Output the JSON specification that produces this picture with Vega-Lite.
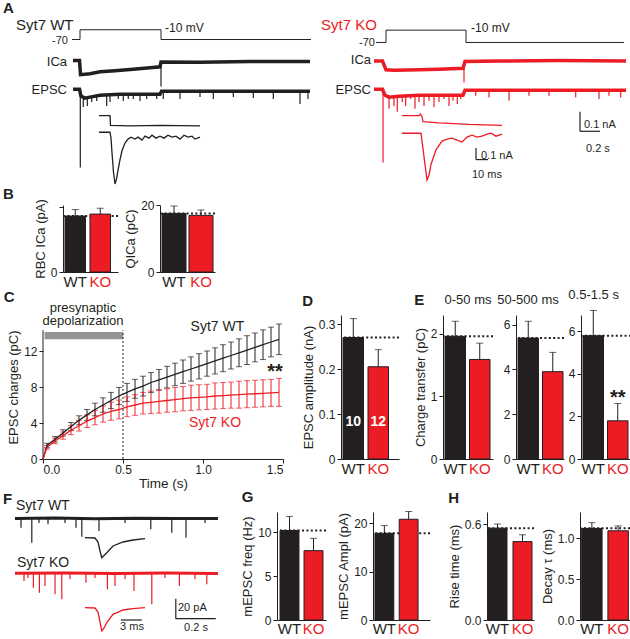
{
"$schema": "https://vega.github.io/schema/vega-lite/v6.json",
"padding": 0,
"background": "white",
"config": {
  "font": "Liberation Sans",
  "view": {"stroke": null},
  "axis": {"labelFont": "Liberation Sans", "titleFont": "Liberation Sans", "labelFontSize": 12, "titleFontSize": 13, "titleFontWeight": "normal", "labelColor": "#231f20", "titleColor": "#231f20", "domainColor": "#231f20", "tickColor": "#231f20", "grid": false, "tickSize": 4, "labelPadding": 2, "titlePadding": 3},
  "title": {"font": "Liberation Sans", "fontSize": 15, "fontWeight": "bold", "anchor": "start", "frame": "bounds", "color": "#231f20", "offset": 2},
  "text": {"font": "Liberation Sans"}
},
"datasets": {
  "tr": [
    {"p":"A","g":"WT","s":"V","t":-0.08,"y":0.76},{"p":"A","g":"WT","s":"V","t":0,"y":0.76},{"p":"A","g":"WT","s":"V","t":0,"y":0.81},{"p":"A","g":"WT","s":"V","t":0.81,"y":0.81},{"p":"A","g":"WT","s":"V","t":0.81,"y":0.76},{"p":"A","g":"WT","s":"V","t":2.31,"y":0.76},
    {"p":"A","g":"WT","s":"I","t":-0.07,"y":0.653},{"p":"A","g":"WT","s":"I","t":-0.005,"y":0.653},{"p":"A","g":"WT","s":"I","t":0.005,"y":0.58},{"p":"A","g":"WT","s":"I","t":0.1,"y":0.585},{"p":"A","g":"WT","s":"I","t":0.2,"y":0.595},{"p":"A","g":"WT","s":"I","t":0.35,"y":0.6},{"p":"A","g":"WT","s":"I","t":0.53,"y":0.608},{"p":"A","g":"WT","s":"I","t":0.7,"y":0.615},{"p":"A","g":"WT","s":"I","t":0.8,"y":0.62},{"p":"A","g":"WT","s":"I","t":0.81,"y":0.645},{"p":"A","g":"WT","s":"I","t":1.2,"y":0.643},{"p":"A","g":"WT","s":"I","t":1.7,"y":0.648},{"p":"A","g":"WT","s":"I","t":2.3,"y":0.648},
    {"p":"A","g":"WT","s":"E","t":-0.07,"y":0.505},{"p":"A","g":"WT","s":"E","t":-0.005,"y":0.505},{"p":"A","g":"WT","s":"E","t":0.01,"y":0.47},{"p":"A","g":"WT","s":"E","t":0.05,"y":0.46},{"p":"A","g":"WT","s":"E","t":0.1,"y":0.465},{"p":"A","g":"WT","s":"E","t":0.2,"y":0.475},{"p":"A","g":"WT","s":"E","t":0.4,"y":0.48},{"p":"A","g":"WT","s":"E","t":0.8,"y":0.48},{"p":"A","g":"WT","s":"E","t":0.815,"y":0.495},{"p":"A","g":"WT","s":"E","t":1.7,"y":0.495},{"p":"A","g":"WT","s":"E","t":2.3,"y":0.495},
    {"p":"A","g":"WT","s":"iI","t":0.19,"y":0.37},{"p":"A","g":"WT","s":"iI","t":0.3,"y":0.37},{"p":"A","g":"WT","s":"iI","t":0.305,"y":0.32},{"p":"A","g":"WT","s":"iI","t":0.5,"y":0.318},{"p":"A","g":"WT","s":"iI","t":0.8,"y":0.32},{"p":"A","g":"WT","s":"iI","t":1.2,"y":0.318},
    {"p":"A","g":"WT","s":"iE","t":0.19,"y":0.285},{"p":"A","g":"WT","s":"iE","t":0.3,"y":0.285},{"p":"A","g":"WT","s":"iE","t":0.31,"y":0.255},{"p":"A","g":"WT","s":"iE","t":0.32,"y":0.18},{"p":"A","g":"WT","s":"iE","t":0.335,"y":0.08},{"p":"A","g":"WT","s":"iE","t":0.35,"y":0.02},{"p":"A","g":"WT","s":"iE","t":0.365,"y":0.045},{"p":"A","g":"WT","s":"iE","t":0.38,"y":0.09},{"p":"A","g":"WT","s":"iE","t":0.4,"y":0.145},{"p":"A","g":"WT","s":"iE","t":0.42,"y":0.19},{"p":"A","g":"WT","s":"iE","t":0.45,"y":0.23},{"p":"A","g":"WT","s":"iE","t":0.48,"y":0.25},{"p":"A","g":"WT","s":"iE","t":0.51,"y":0.26},{"p":"A","g":"WT","s":"iE","t":0.55,"y":0.25},{"p":"A","g":"WT","s":"iE","t":0.58,"y":0.26},{"p":"A","g":"WT","s":"iE","t":0.62,"y":0.245},{"p":"A","g":"WT","s":"iE","t":0.65,"y":0.265},{"p":"A","g":"WT","s":"iE","t":0.69,"y":0.255},{"p":"A","g":"WT","s":"iE","t":0.72,"y":0.27},{"p":"A","g":"WT","s":"iE","t":0.76,"y":0.255},{"p":"A","g":"WT","s":"iE","t":0.8,"y":0.265},{"p":"A","g":"WT","s":"iE","t":0.84,"y":0.255},{"p":"A","g":"WT","s":"iE","t":0.88,"y":0.27},{"p":"A","g":"WT","s":"iE","t":0.92,"y":0.26},{"p":"A","g":"WT","s":"iE","t":0.96,"y":0.265},{"p":"A","g":"WT","s":"iE","t":1.0,"y":0.25},{"p":"A","g":"WT","s":"iE","t":1.04,"y":0.27},{"p":"A","g":"WT","s":"iE","t":1.08,"y":0.26},{"p":"A","g":"WT","s":"iE","t":1.12,"y":0.265},{"p":"A","g":"WT","s":"iE","t":1.15,"y":0.25},{"p":"A","g":"WT","s":"iE","t":1.2,"y":0.26},
    {"p":"A","g":"KO","s":"V","t":-0.1,"y":0.745},{"p":"A","g":"KO","s":"V","t":0,"y":0.745},{"p":"A","g":"KO","s":"V","t":0,"y":0.808},{"p":"A","g":"KO","s":"V","t":0.8,"y":0.808},{"p":"A","g":"KO","s":"V","t":0.8,"y":0.745},{"p":"A","g":"KO","s":"V","t":2.38,"y":0.745},
    {"p":"A","g":"KO","s":"I","t":-0.12,"y":0.65},{"p":"A","g":"KO","s":"I","t":-0.035,"y":0.65},{"p":"A","g":"KO","s":"I","t":0,"y":0.605},{"p":"A","g":"KO","s":"I","t":0.08,"y":0.603},{"p":"A","g":"KO","s":"I","t":0.33,"y":0.605},{"p":"A","g":"KO","s":"I","t":0.53,"y":0.608},{"p":"A","g":"KO","s":"I","t":0.77,"y":0.613},{"p":"A","g":"KO","s":"I","t":0.79,"y":0.648},{"p":"A","g":"KO","s":"I","t":1.13,"y":0.65},{"p":"A","g":"KO","s":"I","t":1.73,"y":0.653},{"p":"A","g":"KO","s":"I","t":2.4,"y":0.65},
    {"p":"A","g":"KO","s":"E","t":-0.12,"y":0.505},{"p":"A","g":"KO","s":"E","t":-0.035,"y":0.505},{"p":"A","g":"KO","s":"E","t":-0.01,"y":0.475},{"p":"A","g":"KO","s":"E","t":0.03,"y":0.465},{"p":"A","g":"KO","s":"E","t":0.13,"y":0.47},{"p":"A","g":"KO","s":"E","t":0.33,"y":0.475},{"p":"A","g":"KO","s":"E","t":0.53,"y":0.475},{"p":"A","g":"KO","s":"E","t":0.77,"y":0.475},{"p":"A","g":"KO","s":"E","t":0.79,"y":0.5},{"p":"A","g":"KO","s":"E","t":1.63,"y":0.5},{"p":"A","g":"KO","s":"E","t":2.4,"y":0.5},
    {"p":"A","g":"KO","s":"iI","t":0.16,"y":0.37},{"p":"A","g":"KO","s":"iI","t":0.33,"y":0.37},{"p":"A","g":"KO","s":"iI","t":0.345,"y":0.378},{"p":"A","g":"KO","s":"iI","t":0.36,"y":0.365},{"p":"A","g":"KO","s":"iI","t":0.37,"y":0.34},{"p":"A","g":"KO","s":"iI","t":0.53,"y":0.333},{"p":"A","g":"KO","s":"iI","t":0.83,"y":0.325},{"p":"A","g":"KO","s":"iI","t":1.16,"y":0.32},
    {"p":"A","g":"KO","s":"iE","t":0.16,"y":0.28},{"p":"A","g":"KO","s":"iE","t":0.35,"y":0.28},{"p":"A","g":"KO","s":"iE","t":0.36,"y":0.24},{"p":"A","g":"KO","s":"iE","t":0.39,"y":0.12},{"p":"A","g":"KO","s":"iE","t":0.41,"y":0.04},{"p":"A","g":"KO","s":"iE","t":0.43,"y":0.065},{"p":"A","g":"KO","s":"iE","t":0.45,"y":0.12},{"p":"A","g":"KO","s":"iE","t":0.5,"y":0.195},{"p":"A","g":"KO","s":"iE","t":0.56,"y":0.24},{"p":"A","g":"KO","s":"iE","t":0.61,"y":0.25},{"p":"A","g":"KO","s":"iE","t":0.66,"y":0.255},{"p":"A","g":"KO","s":"iE","t":0.71,"y":0.245},{"p":"A","g":"KO","s":"iE","t":0.76,"y":0.235},{"p":"A","g":"KO","s":"iE","t":0.81,"y":0.26},{"p":"A","g":"KO","s":"iE","t":0.86,"y":0.27},{"p":"A","g":"KO","s":"iE","t":0.91,"y":0.26},{"p":"A","g":"KO","s":"iE","t":0.96,"y":0.265},{"p":"A","g":"KO","s":"iE","t":1.01,"y":0.275},{"p":"A","g":"KO","s":"iE","t":1.05,"y":0.28},{"p":"A","g":"KO","s":"iE","t":1.1,"y":0.265},{"p":"A","g":"KO","s":"iE","t":1.16,"y":0.275},
    {"p":"F","g":"WT","s":"T","t":0,"y":116.5},{"p":"F","g":"WT","s":"T","t":0.2,"y":117},{"p":"F","g":"WT","s":"T","t":0.4,"y":116.3},{"p":"F","g":"WT","s":"T","t":0.6,"y":116.8},{"p":"F","g":"WT","s":"T","t":0.8,"y":116.4},{"p":"F","g":"WT","s":"T","t":1.015,"y":116.6},
    {"p":"F","g":"KO","s":"T","t":0,"y":61.7},{"p":"F","g":"KO","s":"T","t":0.25,"y":62},{"p":"F","g":"KO","s":"T","t":0.5,"y":61.5},{"p":"F","g":"KO","s":"T","t":0.75,"y":61.9},{"p":"F","g":"KO","s":"T","t":1.015,"y":61.6},
    {"p":"F","g":"WT","s":"i","t":0.35,"y":97.3},{"p":"F","g":"WT","s":"i","t":0.4,"y":97},{"p":"F","g":"WT","s":"i","t":0.415,"y":93},{"p":"F","g":"WT","s":"i","t":0.425,"y":84},{"p":"F","g":"WT","s":"i","t":0.434,"y":77.3},{"p":"F","g":"WT","s":"i","t":0.445,"y":79.5},{"p":"F","g":"WT","s":"i","t":0.459,"y":82.3},{"p":"F","g":"WT","s":"i","t":0.49,"y":89},{"p":"F","g":"WT","s":"i","t":0.54,"y":93},{"p":"F","g":"WT","s":"i","t":0.59,"y":95},{"p":"F","g":"WT","s":"i","t":0.65,"y":96.3},
    {"p":"F","g":"KO","s":"i","t":0.35,"y":27.3},{"p":"F","g":"KO","s":"i","t":0.4,"y":27},{"p":"F","g":"KO","s":"i","t":0.415,"y":23},{"p":"F","g":"KO","s":"i","t":0.425,"y":13},{"p":"F","g":"KO","s":"i","t":0.434,"y":4},{"p":"F","g":"KO","s":"i","t":0.445,"y":7},{"p":"F","g":"KO","s":"i","t":0.459,"y":12.3},{"p":"F","g":"KO","s":"i","t":0.49,"y":20.7},{"p":"F","g":"KO","s":"i","t":0.54,"y":25},{"p":"F","g":"KO","s":"i","t":0.59,"y":26.3},{"p":"F","g":"KO","s":"i","t":0.65,"y":27.3}
  ],
  "sg": [
    {"p":"A","g":"WT","k":"spk","t":0.81,"y":0.52,"y2":0.645},{"p":"A","g":"WT","k":"spk","t":0.003,"y":0.105,"y2":0.505},
    {"p":"A","g":"WT","k":"spk","t":0.033,"y":0.415,"y2":0.465},{"p":"A","g":"WT","k":"spk","t":0.073,"y":0.42,"y2":0.462},{"p":"A","g":"WT","k":"spk","t":0.117,"y":0.44,"y2":0.465},{"p":"A","g":"WT","k":"spk","t":0.167,"y":0.445,"y2":0.47},{"p":"A","g":"WT","k":"spk","t":0.267,"y":0.42,"y2":0.477},{"p":"A","g":"WT","k":"spk","t":0.3,"y":0.44,"y2":0.478},{"p":"A","g":"WT","k":"spk","t":0.383,"y":0.455,"y2":0.48},{"p":"A","g":"WT","k":"spk","t":0.433,"y":0.445,"y2":0.48},{"p":"A","g":"WT","k":"spk","t":0.483,"y":0.455,"y2":0.48},{"p":"A","g":"WT","k":"spk","t":0.533,"y":0.455,"y2":0.48},{"p":"A","g":"WT","k":"spk","t":0.6,"y":0.445,"y2":0.48},{"p":"A","g":"WT","k":"spk","t":0.667,"y":0.455,"y2":0.48},{"p":"A","g":"WT","k":"spk","t":0.767,"y":0.455,"y2":0.48},{"p":"A","g":"WT","k":"spk","t":0.833,"y":0.455,"y2":0.495},{"p":"A","g":"WT","k":"spk","t":1.0,"y":0.455,"y2":0.495},{"p":"A","g":"WT","k":"spk","t":1.2,"y":0.465,"y2":0.495},{"p":"A","g":"WT","k":"spk","t":1.333,"y":0.455,"y2":0.495},{"p":"A","g":"WT","k":"spk","t":1.533,"y":0.465,"y2":0.495},{"p":"A","g":"WT","k":"spk","t":1.733,"y":0.46,"y2":0.495},{"p":"A","g":"WT","k":"spk","t":1.933,"y":0.455,"y2":0.495},{"p":"A","g":"WT","k":"spk","t":2.2,"y":0.43,"y2":0.495},{"p":"A","g":"WT","k":"spk","t":2.28,"y":0.455,"y2":0.495},
    {"p":"A","g":"KO","k":"spk","t":0.78,"y":0.54,"y2":0.648},{"p":"A","g":"KO","k":"spk","t":-0.03,"y":0.13,"y2":0.505},
    {"p":"A","g":"KO","k":"spk","t":0.03,"y":0.405,"y2":0.475},{"p":"A","g":"KO","k":"spk","t":0.08,"y":0.42,"y2":0.475},{"p":"A","g":"KO","k":"spk","t":0.113,"y":0.39,"y2":0.475},{"p":"A","g":"KO","k":"spk","t":0.163,"y":0.44,"y2":0.475},{"p":"A","g":"KO","k":"spk","t":0.197,"y":0.42,"y2":0.475},{"p":"A","g":"KO","k":"spk","t":0.247,"y":0.455,"y2":0.475},{"p":"A","g":"KO","k":"spk","t":0.29,"y":0.405,"y2":0.475},{"p":"A","g":"KO","k":"spk","t":0.33,"y":0.44,"y2":0.475},{"p":"A","g":"KO","k":"spk","t":0.38,"y":0.42,"y2":0.475},{"p":"A","g":"KO","k":"spk","t":0.43,"y":0.447,"y2":0.475},{"p":"A","g":"KO","k":"spk","t":0.48,"y":0.413,"y2":0.475},{"p":"A","g":"KO","k":"spk","t":0.53,"y":0.44,"y2":0.475},{"p":"A","g":"KO","k":"spk","t":0.58,"y":0.455,"y2":0.475},{"p":"A","g":"KO","k":"spk","t":0.63,"y":0.42,"y2":0.475},{"p":"A","g":"KO","k":"spk","t":0.67,"y":0.447,"y2":0.475},{"p":"A","g":"KO","k":"spk","t":0.713,"y":0.43,"y2":0.475},{"p":"A","g":"KO","k":"spk","t":0.747,"y":0.455,"y2":0.475},
    {"p":"A","g":"KO","k":"spk","t":0.897,"y":0.472,"y2":0.5},{"p":"A","g":"KO","k":"spk","t":1.03,"y":0.463,"y2":0.5},{"p":"A","g":"KO","k":"spk","t":1.23,"y":0.447,"y2":0.5},{"p":"A","g":"KO","k":"spk","t":1.43,"y":0.472,"y2":0.5},{"p":"A","g":"KO","k":"spk","t":1.63,"y":0.472,"y2":0.5},{"p":"A","g":"KO","k":"spk","t":1.897,"y":0.463,"y2":0.5},{"p":"A","g":"KO","k":"spk","t":2.13,"y":0.455,"y2":0.5},{"p":"A","g":"KO","k":"spk","t":2.23,"y":0.472,"y2":0.5},{"p":"A","g":"KO","k":"spk","t":2.347,"y":0.463,"y2":0.5},
    {"p":"F","g":"WT","k":"spk","t":0.03,"y":107.3,"y2":116.5},{"p":"F","g":"WT","k":"spk","t":0.084,"y":92.3,"y2":116.5},{"p":"F","g":"WT","k":"spk","t":0.12,"y":112,"y2":116.5},{"p":"F","g":"WT","k":"spk","t":0.165,"y":110.7,"y2":116.5},{"p":"F","g":"WT","k":"spk","t":0.25,"y":112,"y2":116.5},{"p":"F","g":"WT","k":"spk","t":0.305,"y":107.3,"y2":116.5},{"p":"F","g":"WT","k":"spk","t":0.334,"y":98.3,"y2":116.5},{"p":"F","g":"WT","k":"spk","t":0.42,"y":104,"y2":116.5},{"p":"F","g":"WT","k":"spk","t":0.55,"y":112,"y2":116.5},{"p":"F","g":"WT","k":"spk","t":0.679,"y":105.7,"y2":116.5},{"p":"F","g":"WT","k":"spk","t":0.784,"y":102.3,"y2":116.5},{"p":"F","g":"WT","k":"spk","t":0.855,"y":97.3,"y2":116.5},{"p":"F","g":"WT","k":"spk","t":0.95,"y":112,"y2":116.5},
    {"p":"F","g":"KO","k":"spk","t":0.045,"y":54,"y2":61.7},{"p":"F","g":"KO","k":"spk","t":0.065,"y":57,"y2":61.7},{"p":"F","g":"KO","k":"spk","t":0.092,"y":47.3,"y2":61.7},{"p":"F","g":"KO","k":"spk","t":0.122,"y":42.3,"y2":61.7},{"p":"F","g":"KO","k":"spk","t":0.15,"y":49,"y2":61.7},{"p":"F","g":"KO","k":"spk","t":0.2,"y":40.7,"y2":61.7},{"p":"F","g":"KO","k":"spk","t":0.234,"y":35.7,"y2":61.7},{"p":"F","g":"KO","k":"spk","t":0.275,"y":56,"y2":61.7},{"p":"F","g":"KO","k":"spk","t":0.355,"y":52.3,"y2":61.7},{"p":"F","g":"KO","k":"spk","t":0.4,"y":57,"y2":61.7},{"p":"F","g":"KO","k":"spk","t":0.462,"y":45.7,"y2":61.7},{"p":"F","g":"KO","k":"spk","t":0.5,"y":49,"y2":61.7},{"p":"F","g":"KO","k":"spk","t":0.55,"y":56,"y2":61.7},{"p":"F","g":"KO","k":"spk","t":0.595,"y":44,"y2":61.7},{"p":"F","g":"KO","k":"spk","t":0.684,"y":30.7,"y2":61.7},{"p":"F","g":"KO","k":"spk","t":0.75,"y":57,"y2":61.7},{"p":"F","g":"KO","k":"spk","t":0.822,"y":49,"y2":61.7},{"p":"F","g":"KO","k":"spk","t":0.9,"y":56,"y2":61.7},{"p":"F","g":"KO","k":"spk","t":0.959,"y":50.7,"y2":61.7},
    {"p":"A","g":"KO","k":"bar","t":0.9,"t2":0.9,"y":0.205,"y2":0.145},{"p":"A","g":"KO","k":"bar","t":0.9,"t2":1.02,"y":0.145,"y2":0.145},{"p":"A","g":"KO","k":"bar","t":1.94,"t2":1.94,"y":0.39,"y2":0.29},{"p":"A","g":"KO","k":"bar","t":1.94,"t2":2.14,"y":0.29,"y2":0.29},
    {"p":"F","g":"-","k":"bar","t":0.529,"t2":0.634,"y":15,"y2":15},{"p":"F","g":"-","k":"bar","t":0.804,"t2":0.804,"y":36.3,"y2":16.3},{"p":"F","g":"-","k":"bar","t":0.804,"t2":1.004,"y":16.3,"y2":16.3}
  ],
  "tx": [
    {"p":"A","g":"WT","r":"name","s":"Syt7 WT","t":-0.64,"y":0.835},{"p":"A","g":"WT","r":"v70","s":"-70","t":-0.12,"y":0.75},{"p":"A","g":"WT","r":"v10","s":"-10 mV","t":0.85,"y":0.82},{"p":"A","g":"WT","r":"chan","s":"ICa","t":-0.13,"y":0.645},{"p":"A","g":"WT","r":"chan","s":"EPSC","t":-0.13,"y":0.5},
    {"p":"A","g":"KO","r":"name","s":"Syt7 KO","t":-0.65,"y":0.835},{"p":"A","g":"KO","r":"v70","s":"-70","t":-0.11,"y":0.74},{"p":"A","g":"KO","r":"v10","s":"-10 mV","t":0.85,"y":0.82},{"p":"A","g":"KO","r":"chan","s":"ICa","t":-0.15,"y":0.655},{"p":"A","g":"KO","r":"chan","s":"EPSC","t":-0.15,"y":0.5},
    {"p":"A","g":"KO","r":"scale","s":"0.1 nA","t":0.95,"y":0.165},{"p":"A","g":"KO","r":"scale","s":"10 ms","t":0.86,"y":0.065},{"p":"A","g":"KO","r":"scale","s":"0.1 nA","t":1.98,"y":0.32},{"p":"A","g":"KO","r":"scale","s":"0.2 s","t":2.0,"y":0.2},
    {"p":"C","g":"-","r":"pre","s":"presynaptic","t":0.25,"y":16.8},{"p":"C","g":"-","r":"pre","s":"depolarization","t":0.25,"y":15.3},{"p":"C","g":"WT","r":"nm","s":"Syt7 WT","t":1.09,"y":14.7},{"p":"C","g":"KO","r":"nm","s":"Syt7 KO","t":1.075,"y":4.0},{"p":"C","g":"-","r":"sig","s":"**","t":1.45,"y":9.7},
    {"p":"F","g":"-","r":"name","s":"Syt7 WT","t":0.005,"y":129},{"p":"F","g":"-","r":"name","s":"Syt7 KO","t":0.01,"y":72},{"p":"F","g":"-","r":"scaleC","s":"3 ms","t":0.585,"y":8},{"p":"F","g":"-","r":"scale","s":"20 pA","t":0.815,"y":27},{"p":"F","g":"-","r":"scaleC","s":"0.2 s","t":0.905,"y":7}
  ],
  "period": [{"start": 0.01, "end": 0.5}],
  "chg": [
    {"g":"WT","t":0,"m":0},{"g":"KO","t":0,"m":0},
    {"g":"WT","t":0.025,"m":1.5,"lo":1.25,"hi":1.75},{"g":"WT","t":0.075,"m":2.2,"lo":1.9,"hi":2.5},{"g":"WT","t":0.125,"m":2.9,"lo":2.55,"hi":3.25},{"g":"WT","t":0.175,"m":3.6,"lo":3.15,"hi":4.05},{"g":"WT","t":0.225,"m":4.3,"lo":3.8,"hi":4.8},{"g":"WT","t":0.275,"m":4.9,"lo":4.3,"hi":5.5},{"g":"WT","t":0.325,"m":5.5,"lo":4.8,"hi":6.2},{"g":"WT","t":0.375,"m":6.0,"lo":5.2,"hi":6.8},{"g":"WT","t":0.425,"m":6.5,"lo":5.6,"hi":7.4},{"g":"WT","t":0.475,"m":7.0,"lo":6.05,"hi":7.95},{"g":"WT","t":0.525,"m":7.4,"lo":6.4,"hi":8.4},{"g":"WT","t":0.575,"m":7.8,"lo":6.75,"hi":8.85},{"g":"WT","t":0.625,"m":8.1,"lo":7.0,"hi":9.2},{"g":"WT","t":0.675,"m":8.5,"lo":7.4,"hi":9.6},{"g":"WT","t":0.725,"m":8.8,"lo":7.65,"hi":9.95},{"g":"WT","t":0.775,"m":9.1,"lo":7.9,"hi":10.3},{"g":"WT","t":0.825,"m":9.4,"lo":8.15,"hi":10.65},{"g":"WT","t":0.875,"m":9.7,"lo":8.4,"hi":11.0},{"g":"WT","t":0.925,"m":10.0,"lo":8.65,"hi":11.35},{"g":"WT","t":0.975,"m":10.3,"lo":8.9,"hi":11.7},{"g":"WT","t":1.025,"m":10.6,"lo":9.2,"hi":12.0},{"g":"WT","t":1.075,"m":10.9,"lo":9.45,"hi":12.35},{"g":"WT","t":1.125,"m":11.2,"lo":9.7,"hi":12.7},{"g":"WT","t":1.175,"m":11.5,"lo":10.0,"hi":13.0},{"g":"WT","t":1.225,"m":11.8,"lo":10.25,"hi":13.35},{"g":"WT","t":1.275,"m":12.1,"lo":10.5,"hi":13.7},{"g":"WT","t":1.325,"m":12.4,"lo":10.8,"hi":14.0},{"g":"WT","t":1.375,"m":12.7,"lo":11.05,"hi":14.35},{"g":"WT","t":1.425,"m":13.0,"lo":11.35,"hi":14.65},{"g":"WT","t":1.475,"m":13.3,"lo":11.6,"hi":15.0},
    {"g":"KO","t":0.025,"m":1.3,"lo":1.1,"hi":1.5},{"g":"KO","t":0.075,"m":2.0,"lo":1.7,"hi":2.3},{"g":"KO","t":0.125,"m":2.6,"lo":2.2,"hi":3.0},{"g":"KO","t":0.175,"m":3.2,"lo":2.7,"hi":3.7},{"g":"KO","t":0.225,"m":3.7,"lo":3.1,"hi":4.3},{"g":"KO","t":0.275,"m":4.2,"lo":3.5,"hi":4.9},{"g":"KO","t":0.325,"m":4.6,"lo":3.8,"hi":5.4},{"g":"KO","t":0.375,"m":5.0,"lo":4.1,"hi":5.9},{"g":"KO","t":0.425,"m":5.3,"lo":4.3,"hi":6.3},{"g":"KO","t":0.475,"m":5.5,"lo":4.45,"hi":6.55},{"g":"KO","t":0.525,"m":5.8,"lo":4.7,"hi":6.9},{"g":"KO","t":0.575,"m":6.0,"lo":4.85,"hi":7.15},{"g":"KO","t":0.625,"m":6.2,"lo":5.0,"hi":7.4},{"g":"KO","t":0.675,"m":6.3,"lo":5.05,"hi":7.55},{"g":"KO","t":0.725,"m":6.4,"lo":5.1,"hi":7.7},{"g":"KO","t":0.775,"m":6.5,"lo":5.2,"hi":7.8},{"g":"KO","t":0.825,"m":6.6,"lo":5.25,"hi":7.95},{"g":"KO","t":0.875,"m":6.7,"lo":5.35,"hi":8.05},{"g":"KO","t":0.925,"m":6.8,"lo":5.4,"hi":8.2},{"g":"KO","t":0.975,"m":6.85,"lo":5.45,"hi":8.25},{"g":"KO","t":1.025,"m":6.9,"lo":5.5,"hi":8.3},{"g":"KO","t":1.075,"m":7.0,"lo":5.55,"hi":8.45},{"g":"KO","t":1.125,"m":7.05,"lo":5.6,"hi":8.5},{"g":"KO","t":1.175,"m":7.1,"lo":5.65,"hi":8.55},{"g":"KO","t":1.225,"m":7.15,"lo":5.65,"hi":8.65},{"g":"KO","t":1.275,"m":7.2,"lo":5.7,"hi":8.7},{"g":"KO","t":1.325,"m":7.25,"lo":5.75,"hi":8.75},{"g":"KO","t":1.375,"m":7.3,"lo":5.8,"hi":8.8},{"g":"KO","t":1.425,"m":7.35,"lo":5.85,"hi":8.85},{"g":"KO","t":1.475,"m":7.4,"lo":5.85,"hi":8.95}
  ],
  "bars": [
    {"p":"B1","g":"WT","m":43,"hi":48},{"p":"B1","g":"KO","m":44.5,"hi":49},
    {"p":"B2","g":"WT","m":17.5,"hi":19.7},{"p":"B2","g":"KO","m":16.9,"hi":18.5},
    {"p":"D","g":"WT","m":0.27,"hi":0.312,"n":"10"},{"p":"D","g":"KO","m":0.205,"hi":0.243,"n":"12"},
    {"p":"E1","g":"WT","m":1.96,"hi":2.2},{"p":"E1","g":"KO","m":1.59,"hi":1.85},
    {"p":"E2","g":"WT","m":5.4,"hi":6.15},{"p":"E2","g":"KO","m":3.9,"hi":4.76},
    {"p":"E3","g":"WT","m":5.78,"hi":6.96},{"p":"E3","g":"KO","m":1.79,"hi":2.6,"sig":"**"},
    {"p":"G1","g":"WT","m":10.2,"hi":11.8},{"p":"G1","g":"KO","m":7.9,"hi":9.3},
    {"p":"G2","g":"WT","m":17.9,"hi":19.5},{"p":"G2","g":"KO","m":20.8,"hi":22.4},
    {"p":"H1","g":"WT","m":0.574,"hi":0.6},{"p":"H1","g":"KO","m":0.49,"hi":0.533},
    {"p":"H2","g":"WT","m":1.12,"hi":1.19},{"p":"H2","g":"KO","m":1.09,"hi":1.15}
  ]
},
"spacing": 0,
"vconcat": [
  {
    "spacing": 2,
    "hconcat": [
      {"width": 1, "height": 1, "data": {"values": []}, "mark": {"type": "point", "opacity": 0}},
      {
        "title": {"text": "A", "offset": 2},
        "spacing": 0,
        "hconcat": [
          {
            "width": 309, "height": 164,
            "layer": [
              {"data": {"name": "tr"}, "transform": [{"filter": "datum.p==='A' && datum.g==='WT' && datum.s==='V'"}], "mark": {"type": "line", "color": "#231f20", "strokeWidth": 1}, "encoding": {"x": {"field": "t", "type": "quantitative", "scale": {"domain": [-0.77, 2.32], "nice": false, "zero": false}, "axis": null}, "y": {"field": "y", "type": "quantitative", "scale": {"domain": [0.02, 0.86], "nice": false, "zero": false}, "axis": null}, "order": {"value": null}}},
              {"data": {"name": "tr"}, "transform": [{"filter": "datum.p==='A' && datum.g==='WT' && (datum.s==='I' || datum.s==='E')"}], "mark": {"type": "line", "color": "#231f20", "strokeWidth": 3.5}, "encoding": {"x": {"field": "t", "type": "quantitative", "axis": null}, "y": {"field": "y", "type": "quantitative", "axis": null}, "detail": {"field": "s"}, "order": {"value": null}}},
              {"data": {"name": "tr"}, "transform": [{"filter": "datum.p==='A' && datum.g==='WT' && (datum.s==='iI' || datum.s==='iE')"}], "mark": {"type": "line", "color": "#231f20", "strokeWidth": 1.3}, "encoding": {"x": {"field": "t", "type": "quantitative", "axis": null}, "y": {"field": "y", "type": "quantitative", "axis": null}, "detail": {"field": "s"}, "order": {"value": null}}},
              {"data": {"name": "sg"}, "transform": [{"filter": "datum.p==='A' && datum.g==='WT' && datum.k==='spk'"}], "mark": {"type": "rule", "color": "#231f20", "strokeWidth": 1.2}, "encoding": {"x": {"field": "t", "type": "quantitative", "axis": null}, "y": {"field": "y", "type": "quantitative", "axis": null}, "y2": {"field": "y2"}}},
              {"data": {"name": "tx"}, "transform": [{"filter": "datum.p==='A' && datum.g==='WT' && datum.r==='name'"}], "mark": {"type": "text", "align": "left", "baseline": "middle", "fontSize": 15, "color": "#231f20"}, "encoding": {"x": {"field": "t", "type": "quantitative", "axis": null}, "y": {"field": "y", "type": "quantitative", "axis": null}, "text": {"field": "s"}}},
              {"data": {"name": "tx"}, "transform": [{"filter": "datum.p==='A' && datum.g==='WT' && datum.r==='v70'"}], "mark": {"type": "text", "align": "right", "baseline": "middle", "fontSize": 11, "color": "#231f20"}, "encoding": {"x": {"field": "t", "type": "quantitative", "axis": null}, "y": {"field": "y", "type": "quantitative", "axis": null}, "text": {"field": "s"}}},
              {"data": {"name": "tx"}, "transform": [{"filter": "datum.p==='A' && datum.g==='WT' && datum.r==='v10'"}], "mark": {"type": "text", "align": "left", "baseline": "middle", "fontSize": 12, "color": "#231f20"}, "encoding": {"x": {"field": "t", "type": "quantitative", "axis": null}, "y": {"field": "y", "type": "quantitative", "axis": null}, "text": {"field": "s"}}},
              {"data": {"name": "tx"}, "transform": [{"filter": "datum.p==='A' && datum.g==='WT' && datum.r==='chan'"}], "mark": {"type": "text", "align": "right", "baseline": "middle", "fontSize": 13, "color": "#231f20"}, "encoding": {"x": {"field": "t", "type": "quantitative", "axis": null}, "y": {"field": "y", "type": "quantitative", "axis": null}, "text": {"field": "s"}}}
            ]
          },
          {
            "width": 312, "height": 164,
            "layer": [
              {"data": {"name": "tr"}, "transform": [{"filter": "datum.p==='A' && datum.g==='KO' && datum.s==='V'"}], "mark": {"type": "line", "color": "#231f20", "strokeWidth": 1}, "encoding": {"x": {"field": "t", "type": "quantitative", "scale": {"domain": [-0.69, 2.43], "nice": false, "zero": false}, "axis": null}, "y": {"field": "y", "type": "quantitative", "scale": {"domain": [0.02, 0.86], "nice": false, "zero": false}, "axis": null}, "order": {"value": null}}},
              {"data": {"name": "tr"}, "transform": [{"filter": "datum.p==='A' && datum.g==='KO' && (datum.s==='I' || datum.s==='E')"}], "mark": {"type": "line", "color": "#ed1c24", "strokeWidth": 3.5}, "encoding": {"x": {"field": "t", "type": "quantitative", "axis": null}, "y": {"field": "y", "type": "quantitative", "axis": null}, "detail": {"field": "s"}, "order": {"value": null}}},
              {"data": {"name": "tr"}, "transform": [{"filter": "datum.p==='A' && datum.g==='KO' && (datum.s==='iI' || datum.s==='iE')"}], "mark": {"type": "line", "color": "#ed1c24", "strokeWidth": 1.3}, "encoding": {"x": {"field": "t", "type": "quantitative", "axis": null}, "y": {"field": "y", "type": "quantitative", "axis": null}, "detail": {"field": "s"}, "order": {"value": null}}},
              {"data": {"name": "sg"}, "transform": [{"filter": "datum.p==='A' && datum.g==='KO' && datum.k==='spk'"}], "mark": {"type": "rule", "color": "#ed1c24", "strokeWidth": 1.2}, "encoding": {"x": {"field": "t", "type": "quantitative", "axis": null}, "y": {"field": "y", "type": "quantitative", "axis": null}, "y2": {"field": "y2"}}},
              {"data": {"name": "sg"}, "transform": [{"filter": "datum.p==='A' && datum.k==='bar'"}], "mark": {"type": "rule", "color": "#231f20", "strokeWidth": 1.2}, "encoding": {"x": {"field": "t", "type": "quantitative", "axis": null}, "x2": {"field": "t2"}, "y": {"field": "y", "type": "quantitative", "axis": null}, "y2": {"field": "y2"}}},
              {"data": {"name": "tx"}, "transform": [{"filter": "datum.p==='A' && datum.g==='KO' && datum.r==='name'"}], "mark": {"type": "text", "align": "left", "baseline": "middle", "fontSize": 15, "color": "#ed1c24"}, "encoding": {"x": {"field": "t", "type": "quantitative", "axis": null}, "y": {"field": "y", "type": "quantitative", "axis": null}, "text": {"field": "s"}}},
              {"data": {"name": "tx"}, "transform": [{"filter": "datum.p==='A' && datum.g==='KO' && datum.r==='v70'"}], "mark": {"type": "text", "align": "right", "baseline": "middle", "fontSize": 11, "color": "#231f20"}, "encoding": {"x": {"field": "t", "type": "quantitative", "axis": null}, "y": {"field": "y", "type": "quantitative", "axis": null}, "text": {"field": "s"}}},
              {"data": {"name": "tx"}, "transform": [{"filter": "datum.p==='A' && datum.g==='KO' && datum.r==='v10'"}], "mark": {"type": "text", "align": "left", "baseline": "middle", "fontSize": 12, "color": "#231f20"}, "encoding": {"x": {"field": "t", "type": "quantitative", "axis": null}, "y": {"field": "y", "type": "quantitative", "axis": null}, "text": {"field": "s"}}},
              {"data": {"name": "tx"}, "transform": [{"filter": "datum.p==='A' && datum.g==='KO' && datum.r==='chan'"}], "mark": {"type": "text", "align": "right", "baseline": "middle", "fontSize": 13, "color": "#231f20"}, "encoding": {"x": {"field": "t", "type": "quantitative", "axis": null}, "y": {"field": "y", "type": "quantitative", "axis": null}, "text": {"field": "s"}}},
              {"data": {"name": "tx"}, "transform": [{"filter": "datum.p==='A' && datum.g==='KO' && datum.r==='scale'"}], "mark": {"type": "text", "align": "left", "baseline": "middle", "fontSize": 11, "color": "#231f20"}, "encoding": {"x": {"field": "t", "type": "quantitative", "axis": null}, "y": {"field": "y", "type": "quantitative", "axis": null}, "text": {"field": "s"}}}
            ]
          }
        ]
      }
    ]
  },
  {
    "spacing": 20,
    "hconcat": [
      {"width": 1, "height": 1, "title": {"text": "B", "offset": 3, "dx": 3}, "data": {"values": []}, "mark": {"type": "point", "opacity": 0}},
      {
        "spacing": 5,
        "hconcat": [
          {
            "width": 55, "height": 67,
            "data": {"name": "bars"},
            "transform": [{"filter": "datum.p === 'B1'"}],
            "layer": [
              {"transform": [{"filter": "datum.g === 'WT'"}], "mark": {"type": "rule", "strokeDash": [2, 2.4], "strokeWidth": 2, "color": "#231f20"}, "encoding": {"y": {"field": "m", "type": "quantitative", "title": "RBC ICa (pA)", "scale": {"domain": [0, 51.5], "nice": false}, "axis": {"values": [0, 10, 20, 30, 40, 50], "labelExpr": "datum.value % 20 === 0 ? datum.label : ''"}}}},
              {"mark": {"type": "bar", "stroke": "#231f20", "strokeWidth": 1}, "encoding": {"x": {"field": "g", "type": "nominal", "sort": ["WT", "KO"], "title": null, "scale": {"paddingInner": 0.18, "paddingOuter": 0.19, "align": 0.21}, "axis": {"ticks": false, "labelAngle": 0, "labelFontSize": 15, "labelPadding": 2, "labelColor": {"condition": {"test": "datum.value === 'KO'", "value": "#ed1c24"}, "value": "#231f20"}}}, "y": {"field": "m", "type": "quantitative", "title": "RBC ICa (pA)"}, "color": {"field": "g", "type": "nominal", "scale": {"domain": ["WT", "KO"], "range": ["#231f20", "#ed1c24"]}, "legend": null}}},
              {"mark": {"type": "rule", "color": "#231f20"}, "encoding": {"x": {"field": "g", "type": "nominal", "sort": ["WT", "KO"], "title": null}, "y": {"field": "m", "type": "quantitative", "title": "RBC ICa (pA)"}, "y2": {"field": "hi"}}},
              {"mark": {"type": "tick", "color": "#231f20", "thickness": 1, "size": 7, "orient": "horizontal"}, "encoding": {"x": {"field": "g", "type": "nominal", "sort": ["WT", "KO"], "title": null}, "y": {"field": "hi", "type": "quantitative", "title": "RBC ICa (pA)"}}}
            ]
          },
          {
            "width": 55, "height": 67,
            "data": {"name": "bars"},
            "transform": [{"filter": "datum.p === 'B2'"}],
            "layer": [
              {"transform": [{"filter": "datum.g === 'WT'"}], "mark": {"type": "rule", "strokeDash": [2, 2.4], "strokeWidth": 2, "color": "#231f20"}, "encoding": {"y": {"field": "m", "type": "quantitative", "title": "QICa (pC)", "scale": {"domain": [0, 20], "nice": false}, "axis": {"values": [0, 5, 10, 15, 20]}}}},
              {"mark": {"type": "bar", "stroke": "#231f20", "strokeWidth": 1}, "encoding": {"x": {"field": "g", "type": "nominal", "sort": ["WT", "KO"], "title": null, "scale": {"paddingInner": 0.111, "paddingOuter": 0.074, "align": 0.5}, "axis": {"ticks": false, "labelAngle": 0, "labelFontSize": 15, "labelPadding": 2, "labelColor": {"condition": {"test": "datum.value === 'KO'", "value": "#ed1c24"}, "value": "#231f20"}}}, "y": {"field": "m", "type": "quantitative", "title": "QICa (pC)"}, "color": {"field": "g", "type": "nominal", "scale": {"domain": ["WT", "KO"], "range": ["#231f20", "#ed1c24"]}, "legend": null}}},
              {"mark": {"type": "rule", "color": "#231f20"}, "encoding": {"x": {"field": "g", "type": "nominal", "sort": ["WT", "KO"], "title": null}, "y": {"field": "m", "type": "quantitative", "title": "QICa (pC)"}, "y2": {"field": "hi"}}},
              {"mark": {"type": "tick", "color": "#231f20", "thickness": 1, "size": 7, "orient": "horizontal"}, "encoding": {"x": {"field": "g", "type": "nominal", "sort": ["WT", "KO"], "title": null}, "y": {"field": "hi", "type": "quantitative", "title": "QICa (pC)"}}}
            ]
          }
        ]
      }
    ]
  },
  {
    "spacing": 2,
    "hconcat": [
      {"width": 1, "height": 1, "data": {"values": []}, "mark": {"type": "point", "opacity": 0}},
      {
        "spacing": 18,
        "hconcat": [
          {
            "width": 240, "height": 144,
            "title": {"text": "C", "dx": -4, "offset": -3},
            "layer": [
              {"data": {"name": "period"}, "mark": {"type": "rect", "color": "#939598"}, "encoding": {"x": {"field": "start", "type": "quantitative", "title": "Time (s)"}, "x2": {"field": "end"}, "y": {"datum": 13.3}, "y2": {"datum": 14.1}}},
              {"data": {"name": "period"}, "mark": {"type": "rule", "color": "#231f20", "strokeDash": [2, 2], "strokeWidth": 1}, "encoding": {"x": {"field": "end", "type": "quantitative", "title": "Time (s)"}, "y": {"datum": 0}, "y2": {"datum": 14.3}}},
              {"data": {"name": "period"}, "mark": {"type": "rule", "color": "#231f20", "strokeWidth": 1}, "encoding": {"x": {"datum": 0}, "y": {"datum": 0}, "y2": {"datum": 14.3}}},
              {"data": {"name": "chg"}, "transform": [{"filter": "datum.t > 0"}], "mark": {"type": "rule", "strokeWidth": 1}, "encoding": {"x": {"field": "t", "type": "quantitative", "title": "Time (s)", "scale": {"domain": [0, 1.5], "nice": false}, "axis": {"values": [0, 0.5, 1, 1.5], "format": ".1f", "titleFontSize": 13.5, "labelPadding": 1, "titlePadding": 1}}, "y": {"field": "lo", "type": "quantitative", "title": "EPSC charges (pC)", "scale": {"domain": [0, 16], "nice": false}, "axis": {"values": [0, 4, 8, 12], "domain": false}}, "y2": {"field": "hi"}, "color": {"field": "g", "type": "nominal", "scale": {"domain": ["WT", "KO"], "range": ["#231f20", "#ed1c24"]}, "legend": null}}},
              {"data": {"name": "chg"}, "transform": [{"filter": "datum.t > 0"}], "mark": {"type": "tick", "orient": "horizontal", "size": 6, "thickness": 1}, "encoding": {"x": {"field": "t", "type": "quantitative", "title": "Time (s)"}, "y": {"field": "lo", "type": "quantitative", "title": "EPSC charges (pC)"}, "color": {"field": "g", "type": "nominal", "legend": null}}},
              {"data": {"name": "chg"}, "transform": [{"filter": "datum.t > 0"}], "mark": {"type": "tick", "orient": "horizontal", "size": 6, "thickness": 1}, "encoding": {"x": {"field": "t", "type": "quantitative", "title": "Time (s)"}, "y": {"field": "hi", "type": "quantitative", "title": "EPSC charges (pC)"}, "color": {"field": "g", "type": "nominal", "legend": null}}},
              {"data": {"name": "chg"}, "mark": {"type": "line", "strokeWidth": 1.3}, "encoding": {"x": {"field": "t", "type": "quantitative", "title": "Time (s)"}, "y": {"field": "m", "type": "quantitative", "title": "EPSC charges (pC)"}, "color": {"field": "g", "type": "nominal", "legend": null}}},
              {"data": {"name": "tx"}, "transform": [{"filter": "datum.p==='C' && datum.r==='pre'"}], "mark": {"type": "text", "align": "center", "baseline": "middle", "fontSize": 13, "color": "#231f20"}, "encoding": {"x": {"field": "t", "type": "quantitative", "title": "Time (s)"}, "y": {"field": "y", "type": "quantitative", "title": "EPSC charges (pC)"}, "text": {"field": "s"}}},
              {"data": {"name": "tx"}, "transform": [{"filter": "datum.p==='C' && datum.r==='nm'"}], "mark": {"type": "text", "align": "center", "baseline": "middle", "fontSize": 14}, "encoding": {"x": {"field": "t", "type": "quantitative", "title": "Time (s)"}, "y": {"field": "y", "type": "quantitative", "title": "EPSC charges (pC)"}, "text": {"field": "s"}, "color": {"field": "g", "type": "nominal", "legend": null}}},
              {"data": {"name": "tx"}, "transform": [{"filter": "datum.p==='C' && datum.r==='sig'"}], "mark": {"type": "text", "align": "center", "baseline": "middle", "fontSize": 20, "fontWeight": "bold", "color": "#231f20"}, "encoding": {"x": {"field": "t", "type": "quantitative", "title": "Time (s)"}, "y": {"field": "y", "type": "quantitative", "title": "EPSC charges (pC)"}, "text": {"field": "s"}}}
            ]
          },
          {
            "spacing": 14,
            "hconcat": [
              {
                "width": 58, "height": 144,
                "title": {"text": "D", "offset": 6},
                "data": {"name": "bars"},
                "transform": [{"filter": "datum.p === 'D'"}],
                "layer": [
                  {"transform": [{"filter": "datum.g === 'WT'"}], "mark": {"type": "rule", "strokeDash": [2, 2.4], "strokeWidth": 2, "color": "#231f20"}, "encoding": {"y": {"field": "m", "type": "quantitative", "title": "EPSC amplitude (nA)", "scale": {"domain": [0, 0.32], "nice": false}, "axis": {"values": [0, 0.05, 0.1, 0.15, 0.2, 0.25, 0.3], "labelExpr": "round(datum.value*100) % 10 === 0 ? (datum.value === 0 ? '0' : format(datum.value, '.1f')) : ''"}}}},
                  {"mark": {"type": "bar", "stroke": "#231f20", "strokeWidth": 1}, "encoding": {"x": {"field": "g", "type": "nominal", "sort": ["WT", "KO"], "title": null, "scale": {"paddingInner": 0.18, "paddingOuter": 0.25, "align": 0.16}, "axis": {"ticks": false, "labelAngle": 0, "labelFontSize": 15, "labelPadding": 2, "labelColor": {"condition": {"test": "datum.value === 'KO'", "value": "#ed1c24"}, "value": "#231f20"}}}, "y": {"field": "m", "type": "quantitative", "title": "EPSC amplitude (nA)"}, "color": {"field": "g", "type": "nominal", "scale": {"domain": ["WT", "KO"], "range": ["#231f20", "#ed1c24"]}, "legend": null}}},
                  {"mark": {"type": "rule", "color": "#231f20"}, "encoding": {"x": {"field": "g", "type": "nominal", "sort": ["WT", "KO"], "title": null}, "y": {"field": "m", "type": "quantitative", "title": "EPSC amplitude (nA)"}, "y2": {"field": "hi"}}},
                  {"mark": {"type": "tick", "color": "#231f20", "thickness": 1, "size": 7, "orient": "horizontal"}, "encoding": {"x": {"field": "g", "type": "nominal", "sort": ["WT", "KO"], "title": null}, "y": {"field": "hi", "type": "quantitative", "title": "EPSC amplitude (nA)"}}},
                  {"mark": {"type": "text", "color": "white", "fontWeight": "bold", "fontSize": 14, "baseline": "middle"}, "encoding": {"x": {"field": "g", "type": "nominal", "sort": ["WT", "KO"], "title": null}, "y": {"datum": 0.083}, "text": {"field": "n"}}}
                ]
              },
              {
                "title": {"text": "E", "offset": -19},
                "spacing": 3,
                "hconcat": [
                  {
                    "width": 50, "height": 144,
                    "title": {"text": "0-50 ms", "fontWeight": "normal", "fontSize": 13, "anchor": "middle", "frame": "group", "offset": 8},
                    "data": {"name": "bars"},
                    "transform": [{"filter": "datum.p === 'E1'"}],
                    "layer": [
                      {"transform": [{"filter": "datum.g === 'WT'"}], "mark": {"type": "rule", "strokeDash": [2, 2.4], "strokeWidth": 2, "color": "#231f20"}, "encoding": {"y": {"field": "m", "type": "quantitative", "title": "Charge transfer (pC)", "scale": {"domain": [0, 2.3], "nice": false}, "axis": {"values": [0, 0.5, 1, 1.5, 2], "labelExpr": "datum.value % 1 === 0 ? format(datum.value, 'd') : ''"}}}},
                      {"mark": {"type": "bar", "stroke": "#231f20", "strokeWidth": 1}, "encoding": {"x": {"field": "g", "type": "nominal", "sort": ["WT", "KO"], "title": null, "scale": {"paddingInner": 0.163, "paddingOuter": 0.102, "align": 0.4}, "axis": {"ticks": false, "labelAngle": 0, "labelFontSize": 15, "labelPadding": 2, "labelColor": {"condition": {"test": "datum.value === 'KO'", "value": "#ed1c24"}, "value": "#231f20"}}}, "y": {"field": "m", "type": "quantitative", "title": "Charge transfer (pC)"}, "color": {"field": "g", "type": "nominal", "scale": {"domain": ["WT", "KO"], "range": ["#231f20", "#ed1c24"]}, "legend": null}}},
                      {"mark": {"type": "rule", "color": "#231f20"}, "encoding": {"x": {"field": "g", "type": "nominal", "sort": ["WT", "KO"], "title": null}, "y": {"field": "m", "type": "quantitative", "title": "Charge transfer (pC)"}, "y2": {"field": "hi"}}},
                      {"mark": {"type": "tick", "color": "#231f20", "thickness": 1, "size": 7, "orient": "horizontal"}, "encoding": {"x": {"field": "g", "type": "nominal", "sort": ["WT", "KO"], "title": null}, "y": {"field": "hi", "type": "quantitative", "title": "Charge transfer (pC)"}}}
                    ]
                  },
                  {
                    "width": 48, "height": 144,
                    "title": {"text": "50-500 ms", "fontWeight": "normal", "fontSize": 13, "anchor": "start", "frame": "bounds", "offset": 8, "dx": -6},
                    "data": {"name": "bars"},
                    "transform": [{"filter": "datum.p === 'E2'"}],
                    "layer": [
                      {"transform": [{"filter": "datum.g === 'WT'"}], "mark": {"type": "rule", "strokeDash": [2, 2.4], "strokeWidth": 2, "color": "#231f20"}, "encoding": {"y": {"field": "m", "type": "quantitative", "title": null, "scale": {"domain": [0, 6.43], "nice": false}, "axis": {"values": [0, 1, 2, 3, 4, 5, 6], "labelExpr": "datum.value % 2 === 0 ? datum.label : ''"}}}},
                      {"mark": {"type": "bar", "stroke": "#231f20", "strokeWidth": 1}, "encoding": {"x": {"field": "g", "type": "nominal", "sort": ["WT", "KO"], "title": null, "scale": {"paddingInner": 0.163, "paddingOuter": 0.061, "align": 0.67}, "axis": {"ticks": false, "labelAngle": 0, "labelFontSize": 15, "labelPadding": 2, "labelColor": {"condition": {"test": "datum.value === 'KO'", "value": "#ed1c24"}, "value": "#231f20"}}}, "y": {"field": "m", "type": "quantitative", "title": null}, "color": {"field": "g", "type": "nominal", "scale": {"domain": ["WT", "KO"], "range": ["#231f20", "#ed1c24"]}, "legend": null}}},
                      {"mark": {"type": "rule", "color": "#231f20"}, "encoding": {"x": {"field": "g", "type": "nominal", "sort": ["WT", "KO"], "title": null}, "y": {"field": "m", "type": "quantitative", "title": null}, "y2": {"field": "hi"}}},
                      {"mark": {"type": "tick", "color": "#231f20", "thickness": 1, "size": 7, "orient": "horizontal"}, "encoding": {"x": {"field": "g", "type": "nominal", "sort": ["WT", "KO"], "title": null}, "y": {"field": "hi", "type": "quantitative", "title": null}}}
                    ]
                  },
                  {
                    "width": 50, "height": 144,
                    "title": {"text": "0.5-1.5 s", "fontWeight": "normal", "fontSize": 13, "anchor": "start", "frame": "bounds", "offset": 8},
                    "data": {"name": "bars"},
                    "transform": [{"filter": "datum.p === 'E3'"}],
                    "layer": [
                      {"transform": [{"filter": "datum.g === 'WT'"}], "mark": {"type": "rule", "strokeDash": [2, 2.4], "strokeWidth": 2, "color": "#231f20"}, "encoding": {"y": {"field": "m", "type": "quantitative", "title": null, "scale": {"domain": [0, 6.75], "nice": false}, "axis": {"values": [0, 1, 2, 3, 4, 5, 6], "labelExpr": "datum.value % 2 === 0 ? datum.label : ''"}}}},
                      {"mark": {"type": "bar", "stroke": "#231f20", "strokeWidth": 1}, "encoding": {"x": {"field": "g", "type": "nominal", "sort": ["WT", "KO"], "title": null, "scale": {"paddingInner": 0.163, "paddingOuter": 0.102, "align": 0.4}, "axis": {"ticks": false, "labelAngle": 0, "labelFontSize": 15, "labelPadding": 2, "labelColor": {"condition": {"test": "datum.value === 'KO'", "value": "#ed1c24"}, "value": "#231f20"}}}, "y": {"field": "m", "type": "quantitative", "title": null}, "color": {"field": "g", "type": "nominal", "scale": {"domain": ["WT", "KO"], "range": ["#231f20", "#ed1c24"]}, "legend": null}}},
                      {"mark": {"type": "rule", "color": "#231f20"}, "encoding": {"x": {"field": "g", "type": "nominal", "sort": ["WT", "KO"], "title": null}, "y": {"field": "m", "type": "quantitative", "title": null}, "y2": {"field": "hi"}}},
                      {"mark": {"type": "tick", "color": "#231f20", "thickness": 1, "size": 7, "orient": "horizontal"}, "encoding": {"x": {"field": "g", "type": "nominal", "sort": ["WT", "KO"], "title": null}, "y": {"field": "hi", "type": "quantitative", "title": null}}},
                      {"transform": [{"filter": "isValid(datum.sig)"}], "mark": {"type": "text", "color": "#231f20", "fontWeight": "bold", "fontSize": 20, "baseline": "middle", "dy": -6}, "encoding": {"x": {"field": "g", "type": "nominal", "sort": ["WT", "KO"], "title": null}, "y": {"field": "hi", "type": "quantitative", "title": null}, "text": {"field": "sig"}}}
                    ]
                  }
                ]
              }
            ]
          }
        ]
      }
    ]
  },
  {
    "spacing": 2,
    "hconcat": [
      {"width": 1, "height": 1, "data": {"values": []}, "mark": {"type": "point", "opacity": 0}},
      {
        "spacing": 17,
        "hconcat": [
          {
            "width": 217, "height": 123,
            "title": {"text": "F", "offset": -8},
            "layer": [
              {"data": {"name": "tr"}, "transform": [{"filter": "datum.p==='F' && datum.s==='T'"}], "mark": {"type": "line", "strokeWidth": 3}, "encoding": {"x": {"field": "t", "type": "quantitative", "scale": {"domain": [-0.06, 1.025], "nice": false, "zero": false}, "axis": null}, "y": {"field": "y", "type": "quantitative", "scale": {"domain": [0, 123], "nice": false, "zero": false}, "axis": null}, "color": {"field": "g", "type": "nominal", "scale": {"domain": ["WT", "KO"], "range": ["#231f20", "#ed1c24"]}, "legend": null}, "order": {"value": null}}},
              {"data": {"name": "tr"}, "transform": [{"filter": "datum.p==='F' && datum.s==='i'"}], "mark": {"type": "line", "strokeWidth": 1.3}, "encoding": {"x": {"field": "t", "type": "quantitative", "axis": null}, "y": {"field": "y", "type": "quantitative", "axis": null}, "color": {"field": "g", "type": "nominal", "legend": null}, "order": {"value": null}}},
              {"data": {"name": "sg"}, "transform": [{"filter": "datum.p==='F' && datum.k==='spk'"}], "mark": {"type": "rule", "strokeWidth": 1.2}, "encoding": {"x": {"field": "t", "type": "quantitative", "axis": null}, "y": {"field": "y", "type": "quantitative", "axis": null}, "y2": {"field": "y2"}, "color": {"field": "g", "type": "nominal", "legend": null}}},
              {"data": {"name": "sg"}, "transform": [{"filter": "datum.p==='F' && datum.k==='bar'"}], "mark": {"type": "rule", "color": "#231f20", "strokeWidth": 1.2}, "encoding": {"x": {"field": "t", "type": "quantitative", "axis": null}, "x2": {"field": "t2"}, "y": {"field": "y", "type": "quantitative", "axis": null}, "y2": {"field": "y2"}}},
              {"data": {"name": "tx"}, "transform": [{"filter": "datum.p==='F' && datum.r==='name'"}], "mark": {"type": "text", "align": "left", "baseline": "middle", "fontSize": 14, "color": "#231f20"}, "encoding": {"x": {"field": "t", "type": "quantitative", "axis": null}, "y": {"field": "y", "type": "quantitative", "axis": null}, "text": {"field": "s"}}},
              {"data": {"name": "tx"}, "transform": [{"filter": "datum.p==='F' && datum.r==='scale'"}], "mark": {"type": "text", "align": "left", "baseline": "middle", "fontSize": 11, "color": "#231f20"}, "encoding": {"x": {"field": "t", "type": "quantitative", "axis": null}, "y": {"field": "y", "type": "quantitative", "axis": null}, "text": {"field": "s"}}},
              {"data": {"name": "tx"}, "transform": [{"filter": "datum.p==='F' && datum.r==='scaleC'"}], "mark": {"type": "text", "align": "center", "baseline": "middle", "fontSize": 11, "color": "#231f20"}, "encoding": {"x": {"field": "t", "type": "quantitative", "axis": null}, "y": {"field": "y", "type": "quantitative", "axis": null}, "text": {"field": "s"}}}
            ]
          },
          {
            "title": {"text": "G", "offset": 6},
            "spacing": 10,
            "hconcat": [
              {
                "width": 49, "height": 108,
                "data": {"name": "bars"},
                "transform": [{"filter": "datum.p === 'G1'"}],
                "layer": [
                  {"transform": [{"filter": "datum.g === 'WT'"}], "mark": {"type": "rule", "strokeDash": [2, 2.4], "strokeWidth": 2, "color": "#231f20"}, "encoding": {"y": {"field": "m", "type": "quantitative", "title": "mEPSC freq (Hz)", "scale": {"domain": [0, 12.3], "nice": false}, "axis": {"values": [0, 5, 10]}}}},
                  {"mark": {"type": "bar", "stroke": "#231f20", "strokeWidth": 1}, "encoding": {"x": {"field": "g", "type": "nominal", "sort": ["WT", "KO"], "title": null, "scale": {"paddingInner": 0.21, "paddingOuter": 0.126, "align": 0.5}, "axis": {"ticks": false, "labelAngle": 0, "labelFontSize": 15, "labelPadding": 1, "labelColor": {"condition": {"test": "datum.value === 'KO'", "value": "#ed1c24"}, "value": "#231f20"}}}, "y": {"field": "m", "type": "quantitative", "title": "mEPSC freq (Hz)"}, "color": {"field": "g", "type": "nominal", "scale": {"domain": ["WT", "KO"], "range": ["#231f20", "#ed1c24"]}, "legend": null}}},
                  {"mark": {"type": "rule", "color": "#231f20"}, "encoding": {"x": {"field": "g", "type": "nominal", "sort": ["WT", "KO"], "title": null}, "y": {"field": "m", "type": "quantitative", "title": "mEPSC freq (Hz)"}, "y2": {"field": "hi"}}},
                  {"mark": {"type": "tick", "color": "#231f20", "thickness": 1, "size": 7, "orient": "horizontal"}, "encoding": {"x": {"field": "g", "type": "nominal", "sort": ["WT", "KO"], "title": null}, "y": {"field": "hi", "type": "quantitative", "title": "mEPSC freq (Hz)"}}}
                ]
              },
              {
                "width": 57, "height": 108,
                "data": {"name": "bars"},
                "transform": [{"filter": "datum.p === 'G2'"}],
                "layer": [
                  {"transform": [{"filter": "datum.g === 'WT'"}], "mark": {"type": "rule", "strokeDash": [2, 2.4], "strokeWidth": 2, "color": "#231f20"}, "encoding": {"y": {"field": "m", "type": "quantitative", "title": "mEPSC Ampl (pA)", "scale": {"domain": [0, 22.3], "nice": false}, "axis": {"values": [0, 10, 20]}}}},
                  {"mark": {"type": "bar", "stroke": "#231f20", "strokeWidth": 1}, "encoding": {"x": {"field": "g", "type": "nominal", "sort": ["WT", "KO"], "title": null, "scale": {"paddingInner": 0.224, "paddingOuter": 0.286, "align": 0.14}, "axis": {"ticks": false, "labelAngle": 0, "labelFontSize": 15, "labelPadding": 1, "labelColor": {"condition": {"test": "datum.value === 'KO'", "value": "#ed1c24"}, "value": "#231f20"}}}, "y": {"field": "m", "type": "quantitative", "title": "mEPSC Ampl (pA)"}, "color": {"field": "g", "type": "nominal", "scale": {"domain": ["WT", "KO"], "range": ["#231f20", "#ed1c24"]}, "legend": null}}},
                  {"mark": {"type": "rule", "color": "#231f20"}, "encoding": {"x": {"field": "g", "type": "nominal", "sort": ["WT", "KO"], "title": null}, "y": {"field": "m", "type": "quantitative", "title": "mEPSC Ampl (pA)"}, "y2": {"field": "hi"}}},
                  {"mark": {"type": "tick", "color": "#231f20", "thickness": 1, "size": 7, "orient": "horizontal"}, "encoding": {"x": {"field": "g", "type": "nominal", "sort": ["WT", "KO"], "title": null}, "y": {"field": "hi", "type": "quantitative", "title": "mEPSC Ampl (pA)"}}}
                ]
              }
            ]
          },
          {
            "title": {"text": "H", "offset": 6},
            "spacing": 6,
            "hconcat": [
              {
                "width": 47, "height": 108,
                "data": {"name": "bars"},
                "transform": [{"filter": "datum.p === 'H1'"}],
                "layer": [
                  {"transform": [{"filter": "datum.g === 'WT'"}], "mark": {"type": "rule", "strokeDash": [2, 2.4], "strokeWidth": 2, "color": "#231f20"}, "encoding": {"y": {"field": "m", "type": "quantitative", "title": "Rise time (ms)", "scale": {"domain": [0, 0.675], "nice": false}, "axis": {"values": [0, 0.2, 0.4, 0.6], "format": ".1f"}}}},
                  {"mark": {"type": "bar", "stroke": "#231f20", "strokeWidth": 1}, "encoding": {"x": {"field": "g", "type": "nominal", "sort": ["WT", "KO"], "title": null, "scale": {"paddingInner": 0.24, "paddingOuter": 0.06, "align": 0.33}, "axis": {"ticks": false, "labelAngle": 0, "labelFontSize": 15, "labelPadding": 1, "labelColor": {"condition": {"test": "datum.value === 'KO'", "value": "#ed1c24"}, "value": "#231f20"}}}, "y": {"field": "m", "type": "quantitative", "title": "Rise time (ms)"}, "color": {"field": "g", "type": "nominal", "scale": {"domain": ["WT", "KO"], "range": ["#231f20", "#ed1c24"]}, "legend": null}}},
                  {"mark": {"type": "rule", "color": "#231f20"}, "encoding": {"x": {"field": "g", "type": "nominal", "sort": ["WT", "KO"], "title": null}, "y": {"field": "m", "type": "quantitative", "title": "Rise time (ms)"}, "y2": {"field": "hi"}}},
                  {"mark": {"type": "tick", "color": "#231f20", "thickness": 1, "size": 7, "orient": "horizontal"}, "encoding": {"x": {"field": "g", "type": "nominal", "sort": ["WT", "KO"], "title": null}, "y": {"field": "hi", "type": "quantitative", "title": "Rise time (ms)"}}}
                ]
              },
              {
                "width": 50, "height": 108,
                "data": {"name": "bars"},
                "transform": [{"filter": "datum.p === 'H2'"}],
                "layer": [
                  {"transform": [{"filter": "datum.g === 'WT'"}], "mark": {"type": "rule", "strokeDash": [2, 2.4], "strokeWidth": 2, "color": "#231f20"}, "encoding": {"y": {"field": "m", "type": "quantitative", "title": "Decay  τ (ms)", "scale": {"domain": [0, 1.32], "nice": false}, "axis": {"values": [0, 0.5, 1], "format": ".1f"}}}},
                  {"mark": {"type": "bar", "stroke": "#231f20", "strokeWidth": 1}, "encoding": {"x": {"field": "g", "type": "nominal", "sort": ["WT", "KO"], "title": null, "scale": {"paddingInner": 0.222, "paddingOuter": 0.063, "align": 0.5}, "axis": {"ticks": false, "labelAngle": 0, "labelFontSize": 15, "labelPadding": 1, "labelColor": {"condition": {"test": "datum.value === 'KO'", "value": "#ed1c24"}, "value": "#231f20"}}}, "y": {"field": "m", "type": "quantitative", "title": "Decay  τ (ms)"}, "color": {"field": "g", "type": "nominal", "scale": {"domain": ["WT", "KO"], "range": ["#231f20", "#ed1c24"]}, "legend": null}}},
                  {"mark": {"type": "rule", "color": "#231f20"}, "encoding": {"x": {"field": "g", "type": "nominal", "sort": ["WT", "KO"], "title": null}, "y": {"field": "m", "type": "quantitative", "title": "Decay  τ (ms)"}, "y2": {"field": "hi"}}},
                  {"mark": {"type": "tick", "color": "#231f20", "thickness": 1, "size": 7, "orient": "horizontal"}, "encoding": {"x": {"field": "g", "type": "nominal", "sort": ["WT", "KO"], "title": null}, "y": {"field": "hi", "type": "quantitative", "title": "Decay  τ (ms)"}}}
                ]
              }
            ]
          }
        ]
      }
    ]
  }
]
}
